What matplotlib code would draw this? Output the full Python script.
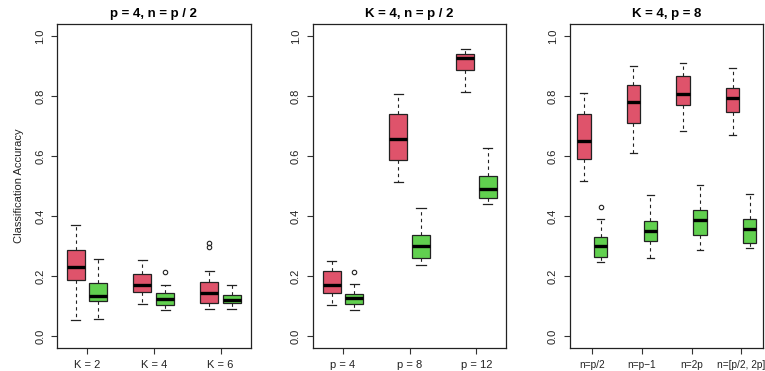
import matplotlib
matplotlib.use("Agg")
import matplotlib.pyplot as plt

plt.rcParams["font.family"] = ["Liberation Sans", "DejaVu Sans"]

# box stats: (whisker low, Q1, median, Q3, whisker high, outliers)
titles = ["p = 4, n = p / 2", "K = 4, n = p / 2", "K = 4, p = 8"]
labels_1 = ["K = 2", "K = 4", "K = 6"]
labels_2 = ["p = 4", "p = 8", "p = 12"]
labels_3 = ["n=p/2", "n=p\u22121", "n=2p", "n=[p/2, 2p]"]

red_1 = [(0.055, 0.186, 0.230, 0.286, 0.369, []),
         (0.108, 0.147, 0.169, 0.206, 0.255, []),
         (0.090, 0.110, 0.143, 0.180, 0.217, [0.297, 0.311])]
green_1 = [(0.056, 0.116, 0.133, 0.177, 0.257, []),
           (0.088, 0.102, 0.122, 0.145, 0.171, [0.213]),
           (0.090, 0.110, 0.119, 0.137, 0.169, [])]

red_2 = [(0.105, 0.145, 0.171, 0.216, 0.250, []),
         (0.513, 0.586, 0.656, 0.739, 0.808, []),
         (0.812, 0.886, 0.927, 0.939, 0.956, [])]
green_2 = [(0.086, 0.108, 0.127, 0.141, 0.175, [0.212]),
           (0.236, 0.261, 0.299, 0.336, 0.427, []),
           (0.439, 0.461, 0.489, 0.532, 0.628, [])]

red_3 = [(0.516, 0.589, 0.650, 0.740, 0.811, []),
         (0.609, 0.711, 0.779, 0.838, 0.900, []),
         (0.685, 0.769, 0.808, 0.867, 0.911, []),
         (0.669, 0.746, 0.795, 0.828, 0.892, [])]
green_3 = [(0.247, 0.262, 0.301, 0.329, 0.389, [0.430]),
           (0.261, 0.318, 0.350, 0.385, 0.469, []),
           (0.287, 0.336, 0.387, 0.421, 0.505, []),
           (0.295, 0.309, 0.358, 0.389, 0.473, [])]

RED = "#DF536B"
GREEN = "#61D04F"


def make_stats(rows):
    out = []
    for lo, q1, med, q3, hi, fl in rows:
        out.append(dict(whislo=lo, q1=q1, med=med, q3=q3, whishi=hi, fliers=fl))
    return out


def draw_panel(ax, red, green, labels, title, xfs=8):
    n = len(labels)
    groups = list(range(1, n + 1))
    for rows, col, off in [(red, RED, -0.17), (green, GREEN, 0.17)]:
        pos = [g + off for g in groups]
        ax.bxp(make_stats(rows), positions=pos, widths=0.27, patch_artist=True,
               manage_ticks=False,
               boxprops=dict(facecolor=col, edgecolor="#222222", linewidth=0.9),
               medianprops=dict(color="black", linewidth=2.4, solid_capstyle="butt"),
               whiskerprops=dict(color="#222222", linewidth=0.8, linestyle=(0, (3, 3))),
               capprops=dict(color="#222222", linewidth=0.9),
               capwidths=0.135,
               flierprops=dict(marker="o", markersize=3.2, markerfacecolor="none",
                               markeredgecolor="#222222", markeredgewidth=0.8))
    ax.set_xlim(0.55, n + 0.45)
    ax.set_ylim(-0.04, 1.04)
    ax.set_xticks(groups)
    ax.set_xticklabels(labels, fontsize=xfs, color="#222222")
    ax.set_yticks([0.0, 0.2, 0.4, 0.6, 0.8, 1.0])
    ax.set_yticklabels(["0.0", "0.2", "0.4", "0.6", "0.8", "1.0"], fontsize=8,
                       rotation=90, va="center", color="#222222")
    ax.tick_params(length=4.5, width=0.8, color="#333333", pad=4)
    for s in ax.spines.values():
        s.set_linewidth(0.9)
        s.set_color("#222222")
    ax.set_title(title, fontsize=9.5, fontweight="bold", pad=5)


fig = plt.figure(figsize=(7.65, 3.71), dpi=100)
lefts = [0.0745, 0.409, 0.745]
width = 0.253
bottom = 0.062
height = 0.873

panels = [(red_1, green_1, labels_1, 8), (red_2, green_2, labels_2, 8),
          (red_3, green_3, labels_3, 7.3)]
for i, (r, g, lab, fs) in enumerate(panels):
    ax = fig.add_axes([lefts[i], bottom, width, height])
    draw_panel(ax, r, g, lab, titles[i], fs)
    if i == 0:
        ax.set_ylabel("Classification Accuracy", fontsize=8, color="#222222", labelpad=8)

fig.savefig("out.png", dpi=100)
